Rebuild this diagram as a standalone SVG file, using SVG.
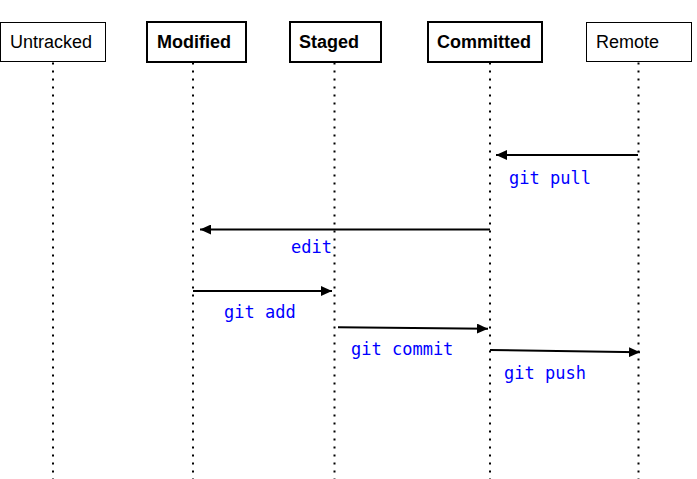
<svg xmlns="http://www.w3.org/2000/svg" width="697" height="479" viewBox="0 0 697 479">
<style>
  .box{fill:#fff;stroke:#000;stroke-width:1}
  .boxb{fill:#fff;stroke:#000;stroke-width:2}
  .lbl{font-family:"Liberation Sans",Arial,sans-serif;font-size:18px;fill:#000}
  .lblb{font-family:"Liberation Sans",Arial,sans-serif;font-size:18px;font-weight:bold;fill:#000}
  .life{stroke:#000;stroke-width:2;stroke-dasharray:2 6;fill:none}
  .msg{stroke:#000;stroke-width:2;fill:none;marker-end:url(#ah)}
  .mt{font-family:"DejaVu Sans Mono",monospace;font-size:17px;fill:#0000ff}
</style>
<defs>
  <marker id="ah" markerUnits="userSpaceOnUse" markerWidth="12" markerHeight="10" refX="11" refY="5" orient="auto">
    <path d="M0,0 L11,5 L0,10 Z" fill="#000"/>
  </marker>
</defs>
<rect width="697" height="479" fill="#fff"/>
<g id="lifelines">
  <line class="life" x1="53" y1="62.5" x2="53" y2="479"/>
  <line class="life" x1="193" y1="62.5" x2="193" y2="479"/>
  <line class="life" x1="334.5" y1="62.5" x2="334.5" y2="479"/>
  <line class="life" x1="490" y1="62.5" x2="490" y2="479"/>
  <line class="life" x1="638.5" y1="62.5" x2="638.5" y2="479"/>
</g>
<g id="untracked">
  <rect class="box" x="0.5" y="22.5" width="105" height="39"/>
  <text class="lbl" x="10" y="48">Untracked</text>
</g>
<g id="modified">
  <rect class="boxb" x="147" y="22" width="99" height="40"/>
  <text class="lblb" x="157" y="48">Modified</text>
</g>
<g id="staged">
  <rect class="boxb" x="290" y="22" width="91" height="40"/>
  <text class="lblb" x="299" y="48">Staged</text>
</g>
<g id="committed">
  <rect class="boxb" x="428" y="22" width="114" height="40"/>
  <text class="lblb" x="437" y="48">Committed</text>
</g>
<g id="remote">
  <rect class="box" x="586.5" y="22.5" width="105" height="39"/>
  <text class="lbl" x="596" y="48">Remote</text>
</g>
<g id="connectors">
  <line class="msg" x1="638" y1="155" x2="496" y2="155"/>
  <text class="mt" x="509" y="184">git pull</text>
  <line class="msg" x1="490" y1="229.5" x2="200" y2="229.5"/>
  <text class="mt" x="291" y="253">edit</text>
  <line class="msg" x1="193" y1="291" x2="332" y2="291"/>
  <text class="mt" x="224" y="318">git add</text>
  <line class="msg" x1="338" y1="327.3" x2="488" y2="328.7"/>
  <text class="mt" x="351" y="355">git commit</text>
  <line class="msg" x1="490" y1="350" x2="640" y2="352.3"/>
  <text class="mt" x="504" y="379">git push</text>
</g>
</svg>
